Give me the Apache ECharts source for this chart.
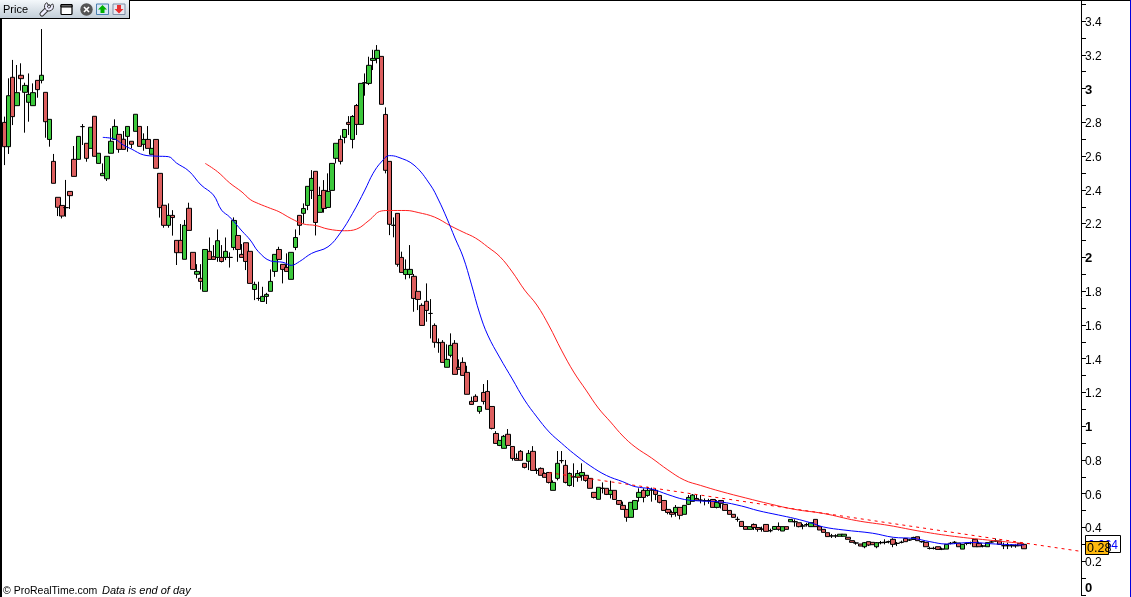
<!DOCTYPE html>
<html><head><meta charset="utf-8">
<style>html,body{margin:0;padding:0;background:#fff}#c{width:1131px;height:597px}</style>
<script src="https://cdn.jsdelivr.net/npm/echarts@6/dist/echarts.min.js"></script>
</head><body><div id="c"></div>
<script>
const opens=[2.80,2.656,3.067,2.899,3.079,2.978,2.919,2.899,3.049,3.049,
2.978,2.699,2.569,2.356,2.308,2.295,2.391,2.581,2.581,2.775,
2.676,2.646,2.836,2.557,2.484,2.466,2.617,2.699,2.729,2.70,
2.717,2.688,2.747,2.776,2.67,2.699,2.611,2.699,2.498,2.309,
2.19,2.249,2.101,2.101,1.989,2.291,2.03,1.90,1.876,1.799,
2.036,2.004,2.0,2.0,2.0,2.0,2.059,2.13,2.018,2.087,
2.036,1.81,1.757,1.739,1.769,1.799,1.917,2.047,1.959,1.941,
1.87,2.059,2.249,2.261,2.308,2.397,2.51,2.267,2.397,2.296,
2.397,2.587,2.699,2.711,2.8,2.699,2.9,2.788,3.035,3.031,
3.167,3.179,3.191,2.847,2.569,2.19,2.261,2.0,1.899,1.899,
1.888,1.799,1.716,1.74,1.668,1.597,1.495,1.497,1.349,1.42,
1.491,1.349,1.378,1.319,1.147,1.177,1.088,1.2,1.206,1.117,
.957,.886,.869,.952,.88,.809,.851,.78,.792,.851,
.738,.75,.72,.726,.62,.691,.796,.768,.649,.70,
.697,.707,.709,.691,.608,.567,.632,.632,.596,.62,
.56,.531,.507,.46,.507,.578,.62,.59,.622,.62,
.59,.56,.507,.489,.489,.519,.478,.537,.555,.572,
.562,.559,.559,.566,.519,.56,.537,.501,.478,.448,
.436,.406,.389,.418,.40,.39,.418,.381,.389,.406,
.379,.405,.434,.434,.428,.409,.417,.405,.448,.405,
.389,.369,.35,.35,.348,.348,.342,.322,.308,.302,
.286,.316,.312,.286,.31,.312,.316,.33,.306,.312,
.335,.326,.329,.345,.316,.312,.276,.276,.286,.272,
.272,.306,.312,.308,.272,.306,.31,.33,.306,.29,
.286,.314,.32,.32,.292,.292,.292,.292,.306,.30];
const closes=[2.656,2.958,2.834,2.976,3.059,3.019,2.966,2.976,2.994,3.079,
2.804,2.818,2.439,2.297,2.245,2.295,2.366,2.48,2.717,2.775,
2.587,2.771,2.599,2.617,2.498,2.599,2.688,2.776,2.64,2.64,
2.776,2.67,2.848,2.658,2.699,2.646,2.646,2.528,2.295,2.19,
2.249,2.236,2.028,2.028,2.19,2.16,1.929,1.917,1.858,2.047,
1.988,1.988,2.099,1.976,2.036,2.0,2.219,2.047,2.0,1.976,
1.846,1.84,1.757,1.769,1.781,1.858,2.018,1.988,1.929,1.917,
2.03,2.118,2.19,2.29,2.421,2.468,2.207,2.367,2.29,2.391,
2.557,2.676,2.569,2.758,2.788,2.835,2.788,3.031,3.035,3.138,
3.179,3.227,2.907,2.516,2.196,2.19,1.959,1.911,1.929,1.929,
1.757,1.751,1.597,1.686,1.668,1.497,1.495,1.378,1.396,1.479,
1.307,1.337,1.301,1.189,1.129,1.147,1.117,1.147,1.10,.987,
.898,.916,.94,.886,.809,.798,.798,.756,.839,.738,
.738,.709,.697,.667,.667,.78,.796,.667,.72,.70,
.72,.726,.679,.632,.578,.638,.632,.596,.62,.566,
.537,.507,.46,.549,.56,.608,.578,.62,.622,.596,
.549,.501,.489,.478,.519,.472,.531,.578,.592,.562,
.562,.559,.559,.519,.549,.543,.501,.478,.46,.448,
.406,.389,.405,.40,.389,.39,.377,.381,.406,.389,
.405,.389,.448,.434,.405,.409,.417,.428,.405,.385,
.371,.346,.35,.35,.36,.36,.33,.312,.308,.29,
.31,.296,.298,.31,.31,.312,.316,.30,.306,.312,
.316,.326,.341,.322,.316,.286,.276,.276,.27,.272,
.30,.306,.312,.286,.30,.306,.31,.286,.286,.29,
.31,.314,.32,.30,.292,.292,.292,.292,.292,.274];
const lows=[2.547,2.613,2.784,2.899,2.988,2.739,2.804,2.899,2.946,3.031,
2.709,2.656,2.439,2.245,2.231,2.241,2.287,2.48,2.581,2.666,
2.567,2.646,2.599,2.557,2.484,2.453,2.617,2.699,2.62,2.64,
2.626,2.646,2.747,2.658,2.632,2.646,2.611,2.528,2.236,2.176,
2.176,2.129,1.955,2.028,1.989,2.16,1.929,1.876,1.81,1.799,
1.988,1.988,1.974,1.97,1.984,1.94,2.043,1.974,2.0,1.925,
1.846,1.747,1.743,1.739,1.724,1.799,1.885,1.988,1.846,1.917,
1.87,2.043,2.132,2.2,2.28,2.346,2.13,2.267,2.265,2.296,
2.397,2.557,2.551,2.676,2.725,2.646,2.725,2.788,2.958,3.021,
3.11,3.15,2.907,2.498,2.132,2.119,1.945,1.911,1.87,1.876,
1.678,1.688,1.597,1.619,1.52,1.465,1.435,1.378,1.349,1.408,
1.307,1.333,1.301,1.189,1.129,1.147,1.074,1.129,1.10,.981,
.898,.882,.869,.886,.796,.798,.798,.75,.74,.738,
.717,.709,.697,.661,.62,.679,.78,.661,.643,.64,
.671,.677,.671,.632,.572,.567,.602,.592,.572,.566,
.533,.507,.434,.46,.507,.553,.549,.582,.553,.562,
.543,.501,.478,.46,.464,.448,.478,.533,.555,.559,
.543,.531,.54,.519,.513,.513,.501,.478,.46,.434,
.406,.389,.389,.385,.375,.375,.377,.371,.385,.381,
.379,.389,.434,.405,.401,.389,.405,.405,.405,.385,
.371,.346,.338,.338,.348,.348,.33,.312,.298,.29,
.277,.29,.298,.277,.30,.30,.306,.283,.29,.306,
.316,.32,.329,.322,.31,.286,.27,.27,.27,.266,
.272,.30,.302,.286,.272,.295,.30,.286,.286,.282,
.286,.31,.316,.30,.272,.272,.28,.28,.292,.274];
const highs=[2.834,3.061,3.17,3.14,3.15,3.035,3.09,3.031,3.049,3.353,
2.978,2.818,2.613,2.356,2.308,2.459,2.391,2.66,2.717,2.79,
2.676,2.771,2.836,2.617,2.557,2.599,2.765,2.818,2.729,2.749,
2.776,2.688,2.848,2.776,2.735,2.778,2.646,2.699,2.498,2.309,
2.32,2.28,2.101,2.198,2.222,2.324,2.03,1.96,1.96,2.047,
2.118,2.073,2.166,2.073,2.118,2.03,2.237,2.13,2.079,2.087,
2.036,1.856,1.856,1.826,1.79,1.929,2.018,2.063,1.959,2.024,
2.03,2.166,2.249,2.32,2.421,2.517,2.51,2.419,2.458,2.498,
2.557,2.676,2.723,2.758,2.837,2.843,2.909,3.031,3.09,3.189,
3.23,3.258,3.191,2.889,2.569,2.237,2.261,2.034,1.988,2.073,
1.902,1.799,1.728,1.846,1.753,1.609,1.52,1.51,1.485,1.55,
1.51,1.396,1.408,1.358,1.175,1.189,1.117,1.25,1.273,1.117,
.971,.916,.948,.983,.88,.839,.859,.78,.859,.882,
.75,.756,.726,.726,.679,.853,.853,.80,.726,.78,
.74,.78,.709,.691,.608,.638,.667,.632,.677,.62,
.56,.553,.507,.549,.56,.632,.632,.641,.636,.632,
.59,.56,.507,.50,.533,.519,.531,.592,.598,.598,
.592,.572,.57,.566,.562,.56,.537,.501,.478,.464,
.436,.406,.405,.424,.40,.405,.418,.393,.406,.43,
.405,.405,.448,.448,.428,.421,.428,.428,.448,.405,
.389,.369,.362,.36,.36,.36,.342,.322,.315,.302,
.314,.316,.312,.314,.32,.33,.322,.336,.314,.322,
.335,.33,.345,.345,.32,.312,.286,.286,.286,.28,
.30,.314,.32,.308,.30,.31,.316,.33,.316,.296,
.31,.322,.335,.32,.31,.31,.30,.30,.306,.306];

const blueIdx=[24,27,29,31,34,37,40,42,45,48,51,53,55,58,60,62,65,68,70,72,75,79,82,85,88,90,92,94,96,100,104,106,108,110,112,114,116,118,121,124,127,130,133,136,139,143,147,151,154,158,162,166,170,175,180,184,189,193,197,200,205,212,217,222,226,230,236,242,249];
const blueVal=[2.711,2.70,2.666,2.642,2.607,2.60,2.597,2.559,2.512,2.429,2.37,2.28,2.239,2.156,2.103,2.034,1.979,1.971,1.953,1.975,2.024,2.063,2.145,2.261,2.399,2.498,2.565,2.603,2.595,2.547,2.429,2.34,2.233,2.115,2.002,1.842,1.671,1.54,1.404,1.28,1.155,1.055,.966,.90,.838,.766,.708,.671,.642,.628,.595,.566,.557,.551,.527,.50,.474,.453,.427,.403,.385,.366,.342,.335,.316,.302,.311,.302,.296];
const redIdx=[49,52,55,58,60,62,65,67,70,73,76,79,83,86,89,92,94,98,101,105,109,112,115,118,121,124,127,130,133,136,139,142,145,148,151,154,158,162,166,170,175,181,187,193,200,208,216,224,232,240,249];
const redVal=[2.557,2.508,2.441,2.387,2.343,2.319,2.29,2.271,2.23,2.198,2.189,2.168,2.158,2.168,2.219,2.275,2.278,2.278,2.266,2.239,2.186,2.15,2.115,2.062,2.004,1.914,1.807,1.718,1.594,1.451,1.321,1.214,1.108,1.025,.942,.877,.812,.741,.681,.649,.613,.575,.539,.507,.483,.441,.412,.376,.347,.326,.305];
const trendIdx=[133,263];
const trendVal=[.7245,.258];

const slots=[];for(let i=0;i<264;i++)slots.push(String(i));
const candle=opens.map((o,i)=>[o,closes[i],lows[i],highs[i]]);
const pairs=(a,b)=>a.map((x,i)=>[x,b[i]]);

const chart=echarts.init(document.getElementById('c'),null,{renderer:'canvas'});
const F='"Liberation Sans",Arial,sans-serif';
const bgLine=(x,y,w,h,c)=>({type:'rect',shape:{x,y,width:w,height:h},style:{fill:c},silent:true,z:50});
chart.setOption({
 animation:false,backgroundColor:'#fff',
 grid:{left:2.5,top:0,width:1081,height:595,containLabel:false},
 xAxis:{type:'category',data:slots,show:false,boundaryGap:true},
 yAxis:{type:'value',position:'right',offset:-2.5,min:0,max:3.525,interval:.2,
  splitLine:{show:false},
  axisLine:{show:true,onZero:false,lineStyle:{color:'#000',width:1}},
  axisTick:{show:true,length:5,lineStyle:{color:'#000'}},
  minorTick:{show:true,splitNumber:2,length:5,lineStyle:{color:'#000'}},
  axisLabel:{margin:4,padding:[3,0,0,0],color:'#000',fontFamily:F,fontSize:12,showMaxLabel:false,verticalAlignMinLabel:'bottom',
   formatter:v=>{const r=Math.round(v*10)/10;return Number.isInteger(r)?'{b|'+r+'}':String(r);},
   rich:{b:{fontWeight:'bold',fontSize:13,fontFamily:F,color:'#000'}}}},
 series:[
  {type:'candlestick',data:candle,barWidth:5,clip:true,large:false,silent:true,
   itemStyle:{color:'#3cc83c',color0:'#dd5f5f',borderColor:'#000',borderColor0:'#000',borderColorDoji:'#000',borderWidth:1}},
  {type:'line',data:pairs(redIdx,redVal),symbol:'none',silent:true,smooth:0.4,lineStyle:{color:'#ff2020',width:1}},
  {type:'line',data:pairs(blueIdx,blueVal),symbol:'none',silent:true,smooth:0.4,lineStyle:{color:'#0000ff',width:1}},
  {type:'line',data:pairs(trendIdx,trendVal),symbol:'none',silent:true,lineStyle:{color:'#ff0000',width:1,type:[3,4]}}
 ],
 graphic:[
  bgLine(0,0,1131,1,'#000'),bgLine(0,0,2,597,'#000'),bgLine(1130,0,1,597,'#0000e0'),
  // price tags
  {type:'rect',shape:{x:1085.5,y:535.5,width:35,height:17},style:{fill:'#fff',stroke:'#000',lineWidth:1},z:51},
  bgLine(1085,537,36,1,'#000'),
  {type:'text',style:{x:1118,y:546,text:'0.264',fill:'#0000ff',font:'12px '+F,textAlign:'right',textVerticalAlign:'middle'},z:52},
  {type:'rect',shape:{x:1085.5,y:541.5,width:23,height:13},style:{fill:'#ffb90f',stroke:'#000',lineWidth:1},z:53},
  {type:'text',style:{x:1087,y:549,text:'0.28',fill:'#000',font:'12.5px '+F,textAlign:'left',textVerticalAlign:'middle'},z:54},
  // toolbar
  {type:'rect',shape:{x:0,y:0,width:129,height:18},style:{fill:new echarts.graphic.LinearGradient(0,0,0,1,[{offset:0,color:'#f4f8fb'},{offset:1,color:'#c3ced8'}])},z:60},
  bgLine(0,18,130,1,'#000'),bgLine(129,0,1,19,'#000'),bgLine(0,0,130,1,'#000'),
  {type:'text',style:{x:3,y:10,text:'Price',fill:'#000',font:'11px '+F,textVerticalAlign:'middle'},z:61},
  {type:'line',shape:{x1:42,y1:14,x2:49,y2:7},style:{stroke:'#333',lineWidth:5,lineCap:'round'},z:61},
  {type:'line',shape:{x1:42,y1:14,x2:49,y2:7},style:{stroke:'#eef',lineWidth:3,lineCap:'round'},z:62},
  {type:'sector',shape:{cx:49,cy:6.5,r0:1.5,r:4.5,startAngle:-0.6,endAngle:4.2},style:{fill:'#eef',stroke:'#333',lineWidth:1},z:62},
  {type:'rect',shape:{x:61,y:4.5,width:11,height:10,r:1},style:{fill:'#fff',stroke:'#000',lineWidth:1.2},z:61},
  {type:'rect',shape:{x:61,y:4.5,width:11,height:2.5},style:{fill:'#666',stroke:'#000',lineWidth:1},z:62},
  {type:'circle',shape:{cx:86.5,cy:9.5,r:6.2},style:{fill:'#555'},z:61},
  {type:'line',shape:{x1:84,y1:7,x2:89,y2:12},style:{stroke:'#fff',lineWidth:1.6},z:62},
  {type:'line',shape:{x1:89,y1:7,x2:84,y2:12},style:{stroke:'#fff',lineWidth:1.6},z:62},
  {type:'rect',shape:{x:96.5,y:4,width:12,height:10.5},style:{fill:'#d8e8f6',stroke:'#4a7fb0',lineWidth:1},z:61},
  {type:'polygon',shape:{points:[[102.5,5],[107,9.5],[104.5,9.5],[104.5,13],[100.5,13],[100.5,9.5],[98,9.5]]},style:{fill:'#00b000'},z:62},
  {type:'rect',shape:{x:113,y:4,width:12,height:10.5},style:{fill:'#e8e8f0',stroke:'#7f8fa8',lineWidth:1},z:61},
  {type:'polygon',shape:{points:[[117,5],[121,5],[121,9],[123.5,9],[119,13.5],[114.5,9],[117,9]]},style:{fill:'#e83030'},z:62},
  // footer
  {type:'text',style:{x:3,y:591,text:'\u00a9 ProRealTime.com',fill:'#000',font:'10.5px '+F,textVerticalAlign:'middle'},z:61},
  {type:'text',style:{x:102,y:591,text:'Data is end of day',fill:'#000',font:'italic 11px '+F,textVerticalAlign:'middle'},z:61}
 ]
});
</script></body></html>
